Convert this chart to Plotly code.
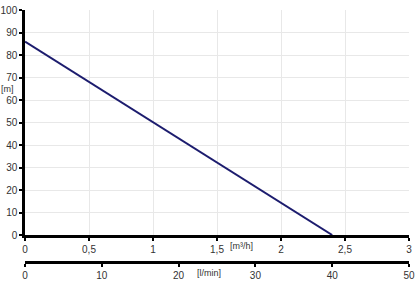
import plotly.graph_objects as go

flow_m3h = [0, 2.4]
head_m = [86, 0]
x1_ticks = [0, 0.5, 1, 1.5, 2, 2.5, 3]
x1_labels = ["0", "0,5", "1", "1,5", "2", "2,5", "3"]
x2_ticks = [0, 10, 20, 30, 40, 50]
y_ticks = [0, 10, 20, 30, 40, 50, 60, 70, 80, 90, 100]

W, H = 420, 289
ml, mr, mt, mb = 25, 11, 10, 27
ph = H - mt - mb
ybot = (262 - 235) / ph

fig = go.Figure()
fig.add_trace(go.Scatter(x=flow_m3h, y=head_m, mode="lines",
                         line=dict(color="#1c1c6e", width=2), showlegend=False,
                         hoverinfo="skip", xaxis="x", yaxis="y"))
fig.add_trace(go.Scatter(x=[0, 50], y=[None, None], mode="lines", showlegend=False,
                         xaxis="x2", yaxis="y", hoverinfo="skip"))

tickfont = dict(family="Liberation Sans, Arial, sans-serif", size=10, color="#333")

fig.update_layout(
    width=W, height=H,
    margin=dict(l=ml, r=mr, t=mt, b=mb, autoexpand=False),
    paper_bgcolor="white", plot_bgcolor="white",
    xaxis=dict(range=[0, 3], tickvals=x1_ticks, ticktext=x1_labels,
               showgrid=True, gridcolor="#e8e8e8", gridwidth=1,
               showline=True, linecolor="black", linewidth=2.5,
               ticks="outside", ticklen=3, tickwidth=1.5, tickcolor="black",
               tickfont=tickfont, zeroline=False, anchor="y", fixedrange=True,
               automargin=False),
    xaxis2=dict(range=[0, 50], tickvals=x2_ticks, overlaying="x", anchor="free",
                position=0, side="bottom", showgrid=False,
                showline=True, linecolor="black", linewidth=2.5,
                ticks="outside", ticklen=3, tickwidth=1.5, tickcolor="black",
                tickfont=tickfont, zeroline=False, fixedrange=True,
                automargin=False),
    yaxis=dict(range=[0, 100], tickvals=y_ticks, domain=[ybot, 1],
               showgrid=True, gridcolor="#e8e8e8", gridwidth=1,
               showline=True, linecolor="black", linewidth=2.5,
               ticks="outside", ticklen=3, tickwidth=1.5, tickcolor="black",
               tickfont=tickfont, zeroline=False, fixedrange=True,
               automargin=False),
    annotations=[
        dict(text="[m]", xref="paper", yref="y", x=(7 - ml) / (W - ml - mr), y=65,
             showarrow=False, font=dict(family="Liberation Sans, Arial, sans-serif", size=9, color="#333"),
             xanchor="center", yanchor="middle"),
        dict(text="[m³/h]", xref="x", yref="paper", x=1.69, y=(262 - 246) / ph,
             showarrow=False, font=dict(family="Liberation Sans, Arial, sans-serif", size=9, color="#333"),
             xanchor="center", yanchor="middle"),
        dict(text="[l/min]", xref="x", yref="paper", x=1.44, y=(262 - 273) / ph,
             showarrow=False, font=dict(family="Liberation Sans, Arial, sans-serif", size=9, color="#333"),
             xanchor="center", yanchor="middle"),
    ],
)

fig.write_html("out.html")
